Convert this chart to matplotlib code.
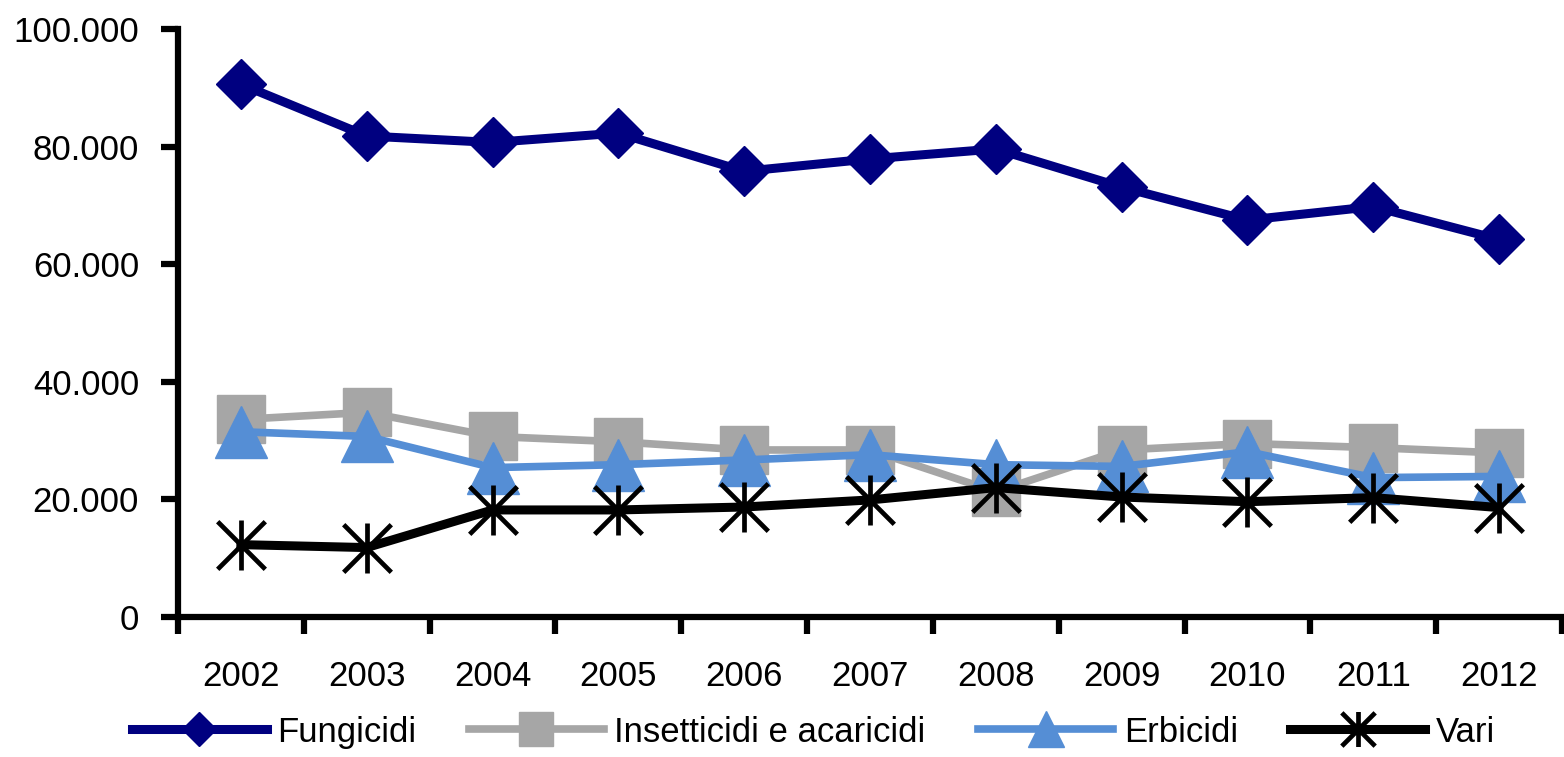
import matplotlib
matplotlib.use("Agg")
import matplotlib.pyplot as plt
from matplotlib.path import Path
from matplotlib.ticker import FuncFormatter, FixedLocator

# quantities by category of product, 2002-2012
anni = ["2002", "2003", "2004", "2005", "2006", "2007", "2008", "2009", "2010", "2011", "2012"]
fungicidi = [90600, 81800, 80700, 82300, 75800, 77900, 79600, 73100, 67500, 69800, 64200]
insetticidi = [33600, 34800, 30700, 29800, 28400, 28400, 21300, 28400, 29500, 28800, 27900]
erbicidi = [31500, 30700, 25400, 25900, 26700, 27600, 25900, 25600, 28100, 23700, 23900]
vari = [12300, 11800, 18200, 18200, 18700, 19900, 22000, 20400, 19600, 20300, 18600]

plt.rcParams['font.family'] = ['Liberation Sans', 'DejaVu Sans']

# asterisk marker: an X with a vertical bar through it
asterisco = Path(
    [(-1, -1), (1, 1), (-1, 1), (1, -1), (0, -1.05), (0, 1.05)],
    [Path.MOVETO, Path.LINETO, Path.MOVETO, Path.LINETO, Path.MOVETO, Path.LINETO],
)

fig = plt.figure(figsize=(15.64, 7.57), dpi=100)
ax = fig.add_axes([0.1138, 0.185, 0.8849, 0.7767])

x = list(range(len(anni)))
ax.plot(x, fungicidi, color="#000080", lw=6.5, marker="D", ms=25, label="Fungicidi")
ax.plot(x, insetticidi, color="#A6A6A6", lw=5.5, marker="s", ms=34, label="Insetticidi e acaricidi")
ax.plot(x, erbicidi, color="#558ED5", lw=5.5, marker="^", ms=37, label="Erbicidi")
ax.plot(x, vari, color="black", lw=6.5, marker=asterisco, ms=36, mew=3.4, mfc="none",
        label="Vari")

ax.set_xlim(-0.5, len(anni) - 0.5)
ax.set_ylim(0, 100000)

ax.set_yticks(range(0, 100001, 20000))
ax.yaxis.set_major_formatter(FuncFormatter(lambda v, p: f"{int(v):,}".replace(",", ".")))

# tick marks between the years, labels centred on each year
ax.xaxis.set_major_locator(FixedLocator([i - 0.5 for i in range(len(anni) + 1)]))
ax.xaxis.set_minor_locator(FixedLocator(x))
ax.set_xticklabels([""] * (len(anni) + 1))
ax.set_xticklabels(anni, minor=True)

for s in ["top", "right"]:
    ax.spines[s].set_visible(False)
for s in ["left", "bottom"]:
    ax.spines[s].set_linewidth(4.5)

ax.tick_params(axis="both", which="major", length=12, width=4.5, labelsize=25, direction="out")
ax.tick_params(axis="y", pad=16)
ax.tick_params(axis="x", which="minor", length=0, pad=31, labelsize=25)

fig.legend(loc="center", bbox_to_anchor=(0.52, 0.033), ncol=4, frameon=False,
           fontsize=25, handlelength=3.9, handletextpad=0.3, columnspacing=1.5,
           markerscale=0.7)

fig.savefig("out.png", dpi=100)
